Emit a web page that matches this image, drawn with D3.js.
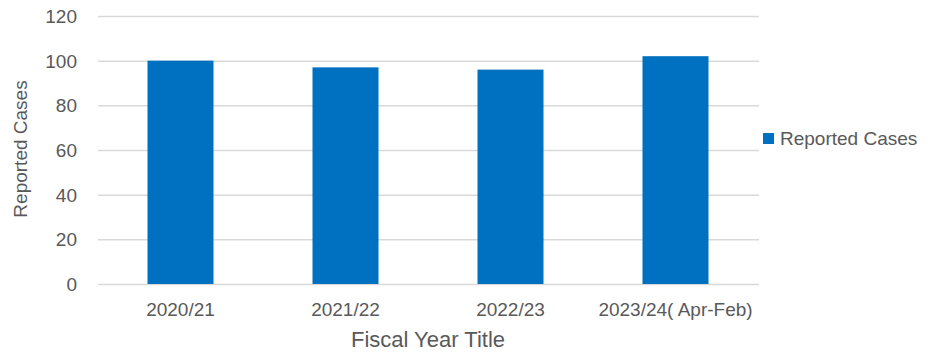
<!DOCTYPE html>
<html>
<head>
<meta charset="utf-8">
<script src="https://cdn.jsdelivr.net/npm/d3@7"></script>
<style>
  body { margin: 0; background: #fff; }
  text { font-family: "Liberation Sans", Arial, sans-serif; fill: #595959; }
</style>
</head>
<body>
<div id="chart"></div>
<script>
const years = ['2020/21', '2021/22', '2022/23', '2023/24( Apr-Feb)'];
const cases = [100, 97, 96, 102];
const yTicks = [0, 20, 40, 60, 80, 100, 120];

const size = { width: 933, height: 355 };
const margin = { top: 16, right: 175, bottom: 71, left: 98 };

const svg = d3
  .select('#chart')
  .append('svg')
  .attr('width', size.width)
  .attr('height', size.height);

const x = d3
  .scaleBand()
  .domain(years)
  .range([margin.left, size.width - margin.right])
  .paddingInner(0.6)
  .paddingOuter(0.3);

const y = d3
  .scaleLinear()
  .domain([0, 120])
  .range([size.height - margin.bottom, margin.top]);

// gridlines + y labels
const yAxis = svg
  .append('g')
  .attr('transform', `translate(${margin.left}, 0)`)
  .call(
    d3
      .axisLeft(y)
      .tickValues(yTicks)
      .tickSize(-(size.width - margin.right - margin.left + 1))
      .tickPadding(21),
  );
yAxis.select('.domain').remove();
yAxis.selectAll('.tick line').attr('stroke', '#d9d9d9').attr('stroke-width', 1.5);
yAxis.selectAll('.tick text').style('font-size', '19px').attr('dy', '0.35em');

svg
  .selectAll('.bar')
  .data(cases)
  .enter()
  .append('rect')
  .attr('class', 'bar')
  .attr('x', (d, i) => x(years[i]))
  .attr('width', x.bandwidth())
  .attr('y', (d) => y(d))
  .attr('height', (d) => y(0) - y(d))
  .attr('fill', '#0070c0');

// x labels
const xAxis = svg
  .append('g')
  .attr('transform', `translate(0, ${y(0)})`)
  .call(d3.axisBottom(x).tickSize(0).tickPadding(0));
xAxis.select('.domain').remove();
xAxis
  .selectAll('.tick text')
  .style('font-size', '19px')
  .attr('dy', null)
  .attr('y', 32);

svg
  .append('text')
  .attr('x', (margin.left + size.width - margin.right) / 2)
  .attr('y', 347)
  .attr('text-anchor', 'middle')
  .style('font-size', '22px')
  .text('Fiscal Year Title');

svg
  .append('text')
  .attr('transform', 'translate(27, 149) rotate(-90)')
  .attr('text-anchor', 'middle')
  .style('font-size', '19px')
  .text('Reported Cases');

// legend
const legend = svg.append('g').attr('transform', 'translate(763, 133)');
legend.append('rect').attr('width', 11).attr('height', 11).attr('fill', '#0070c0');
legend
  .append('text')
  .attr('x', 17)
  .attr('y', 12)
  .style('font-size', '19px')
  .text('Reported Cases');
</script>
</body>
</html>
